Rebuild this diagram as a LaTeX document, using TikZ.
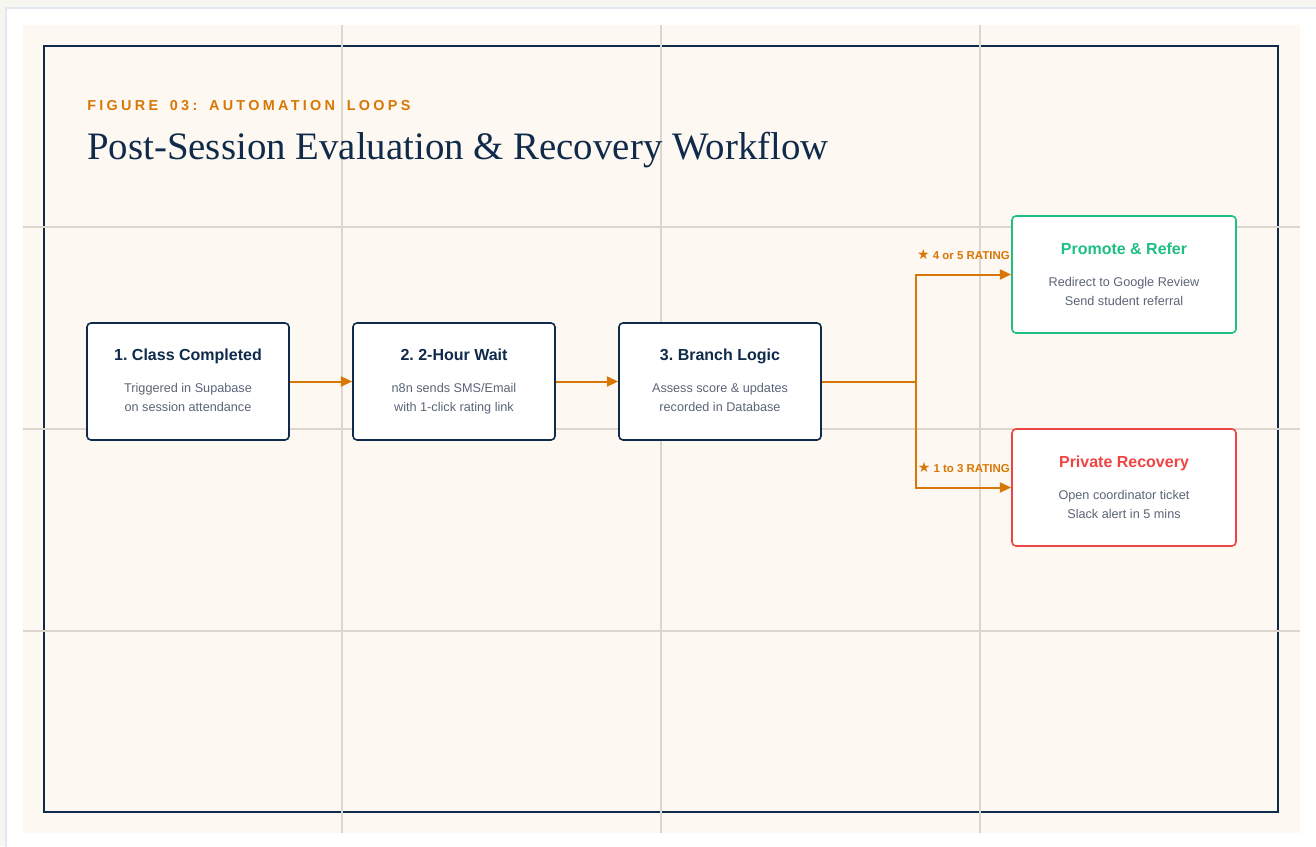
\documentclass[tikz,border=0pt]{standalone}
\usepackage{fontspec}
\setmainfont{Liberation Sans}
\newfontfamily\serifttl{Liberation Serif}
\newfontfamily\spacedfont[LetterSpace=23,WordSpace=1.6]{Liberation Sans}
\newfontfamily\symfont{DejaVu Sans}
\usetikzlibrary{arrows.meta}
\definecolor{navy}{HTML}{0F2A4A}
\definecolor{cream}{HTML}{FDF9F2}
\definecolor{gridc}{HTML}{DDD6CC}
\definecolor{outerbg}{HTML}{F7F5F0}
\definecolor{cardline}{HTML}{E2E8F0}
\definecolor{orangec}{HTML}{D97706}
\definecolor{greenc}{HTML}{1FBF82}
\definecolor{redc}{HTML}{EF4444}
\definecolor{subgray}{HTML}{5B6577}
\frenchspacing
\tikzset{
  stepbox/.style={draw=navy, line width=1.2pt, rounded corners=3pt, fill=white,
    minimum width=151.5pt, minimum height=87.75pt, inner sep=0pt},
  outbox/.style={stepbox, minimum width=168pt},
  btitle/.style={font=\bfseries\fontsize{12}{14}\selectfont, text=navy, inner sep=0pt, anchor=base},
  bsub/.style={font=\fontsize{9.5}{11}\selectfont, text=subgray, inner sep=0pt, anchor=base},
  arr/.style={draw=orangec, line width=1.5pt, -{Triangle[length=8.5pt,width=7.5pt]}},
  rlabel/.style={font=\bfseries\fontsize{8.6}{10}\selectfont, text=orangec, inner sep=0pt, anchor=base east}
}
\begin{document}
\begin{tikzpicture}[x=0.75pt,y=-0.75pt]
\useasboundingbox (0,0) rectangle (1316,846);
\fill[outerbg] (0,0) rectangle (1316,846);
\filldraw[fill=white, draw=cardline, line width=1.5pt] (6,8) rectangle (1322,852);
\fill[cream] (23,25) rectangle (1300,833);
\draw[navy, line width=1pt] (44,46) rectangle (1278,812);
\foreach \x in {342,661,980} \draw[gridc, line width=0.8pt] (\x,25) -- (\x,833);
\foreach \y in {227,429,631} \draw[gridc, line width=0.8pt] (23,\y) -- (1300,\y);

\node[anchor=base west, inner sep=0pt, text=orangec, font=\spacedfont\bfseries\fontsize{10.8}{12}\selectfont] (fig) at (87,110) {FIGURE 03: AUTOMATION LOOPS};
\node[anchor=base west, inner sep=0pt, text=navy] (ttl) at (87,159) {\resizebox{556pt}{!}{\serifttl Post-Session Evaluation \& Recovery Workflow}};

\node[stepbox] (b1) at (188,381.5) {};
\node[btitle] (b1t) at (188,360) {1. Class Completed};
\node[bsub] (b1a) at (188,392) {Triggered in Supabase};
\node[bsub] (b1b) at (188,411) {on session attendance};

\node[stepbox] (b2) at (454,381.5) {};
\node[btitle] (b2t) at (454,360) {2. 2-Hour Wait};
\node[bsub] (b2a) at (454,392) {n8n sends SMS/Email};
\node[bsub] (b2b) at (454,411) {with 1-click rating link};

\node[stepbox] (b3) at (720,381.5) {};
\node[btitle] (b3t) at (720,360) {3. Branch Logic};
\node[bsub] (b3a) at (720,392) {Assess score \& updates};
\node[bsub] (b3b) at (720,411) {recorded in Database};

\node[outbox, draw=greenc] (pr) at (1124,274.5) {};
\node[btitle, text=greenc] (prt) at (1124,254) {Promote \& Refer};
\node[bsub] (pra) at (1124,286) {Redirect to Google Review};
\node[bsub] (prb) at (1124,305) {Send student referral};

\node[outbox, draw=redc] (rc) at (1124,487.5) {};
\node[btitle, text=redc] (rct) at (1124,467) {Private Recovery};
\node[bsub] (rca) at (1124,499) {Open coordinator ticket};
\node[bsub] (rcb) at (1124,518) {Slack alert in 5 mins};

\draw[arr] (b1.east) -- (b2.west);
\draw[arr] (b2.east) -- (b3.west);
\coordinate (j) at (916,381.5);
\draw[arr] (b3.east) -- (j) |- (pr.west);
\draw[arr] (j) |- (rc.west);

\node[rlabel] (l1) at (1010,259) {{\symfont\fontsize{10.5}{10}\selectfont ★} 4 or 5 RATING};
\node[rlabel] (l2) at (1010,472) {{\symfont\fontsize{10.5}{10}\selectfont ★} 1 to 3 RATING};
\end{tikzpicture}
\end{document}
